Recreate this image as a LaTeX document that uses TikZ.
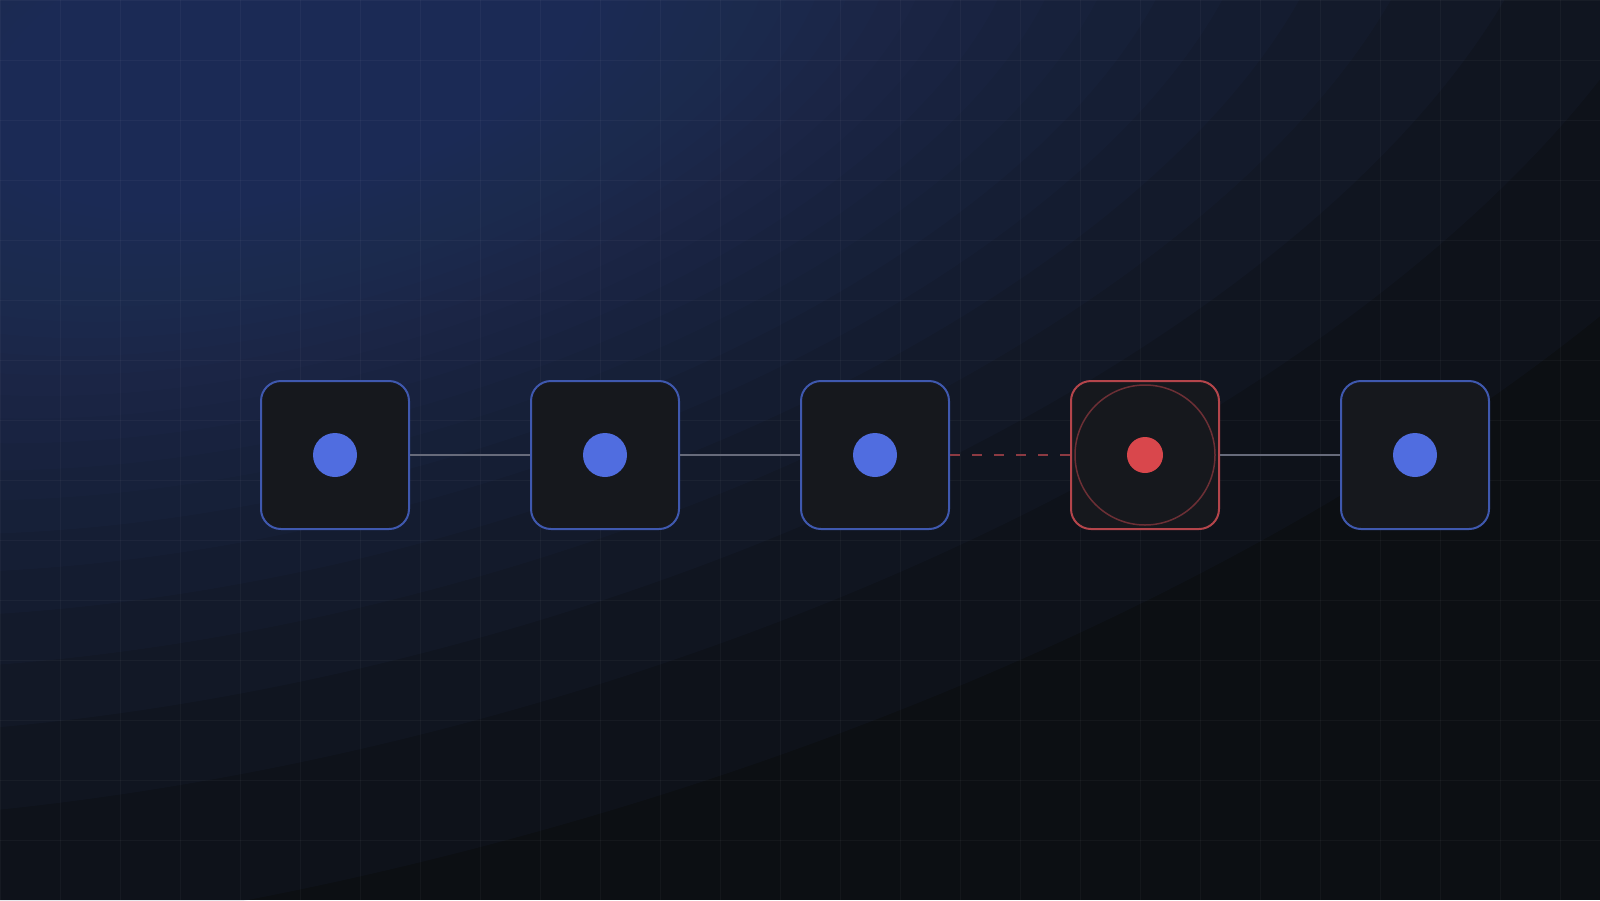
\documentclass[tikz,border=0pt]{standalone}
\usepackage{xcolor}
\usetikzlibrary{positioning, calc}
\definecolor{bgdark}{HTML}{0C0F13}
\definecolor{glowblue}{HTML}{24335E}
\definecolor{boxfill}{HTML}{16181D}
\definecolor{boxblue}{HTML}{3F58AE}
\definecolor{coreblue}{HTML}{506DE0}
\definecolor{faultred}{HTML}{B4454B}
\definecolor{corered}{HTML}{D9474C}
\definecolor{ringred}{HTML}{6C2F35}
\definecolor{linkgrey}{HTML}{676B7B}
\definecolor{linkred}{HTML}{8C3A42}

\tikzset{
  gridln/.style={draw=white, opacity=0.035, line width=1pt},
  glowlayer/.style={fill=glowblue, opacity=0.1},
  cell/.style={draw=boxblue, fill=boxfill, line width=2pt, rounded corners=20pt, minimum size=148pt, inner sep=0pt},
  faultcell/.style={cell, draw=faultred},
  core/.style={circle, fill=coreblue, minimum size=44pt, inner sep=0pt},
  link/.style={draw=linkgrey, line width=2.5pt},
  brokenlink/.style={draw=linkred, line width=2.5pt, dash pattern=on 10pt off 12pt},
}

\begin{document}
\begin{tikzpicture}[x=1pt, y=-1pt]
            \useasboundingbox (0,0) rectangle (1600,900);
            \clip (0,0) rectangle (1600,900);

            % --- Background: dark base, blue glow, grid ---
            \fill[bgdark] (0,0) rectangle (1600,900);
            \foreach \k in {1,...,40} {
                \pgfmathsetmacro{\rr}{sqrt(-ln(1-0.9^\k))}
                \fill[glowlayer, rotate around={15:(290,50)}] (290,50) ellipse [x radius=1150*\rr, y radius=540*\rr];
            }
            \foreach \gx in {0,60,...,1600} {
                \draw[gridln] (\gx,0) -- (\gx,900);
            }
            \foreach \gy in {0,60,...,900} {
                \draw[gridln] (0,\gy) -- (1600,\gy);
            }

            % --- Chain of cells ---
            \node[cell] (c1) at (335,455) {};
            \node[cell, right=120pt of c1] (c2) {};
            \node[cell, right=120pt of c2] (c3) {};
            \node[faultcell, right=120pt of c3] (c4) {};
            \node[cell, right=120pt of c4] (c5) {};

            % Cores
            \foreach \k in {1,2,3,5} {
                \node[core] (d\k) at (c\k) {};
            }
            \node[circle, draw=ringred, line width=1.5pt, minimum size=140pt, inner sep=0pt] (ring) at (c4) {};
            \node[core, fill=corered, minimum size=36pt] (d4) at (c4) {};

            % Links
            \draw[link] (c1) -- (c2);
            \draw[link] (c2) -- (c3);
            \draw[brokenlink] (c3) -- (c4);
            \draw[link] (c4) -- (c5);
        \end{tikzpicture}
\end{document}
